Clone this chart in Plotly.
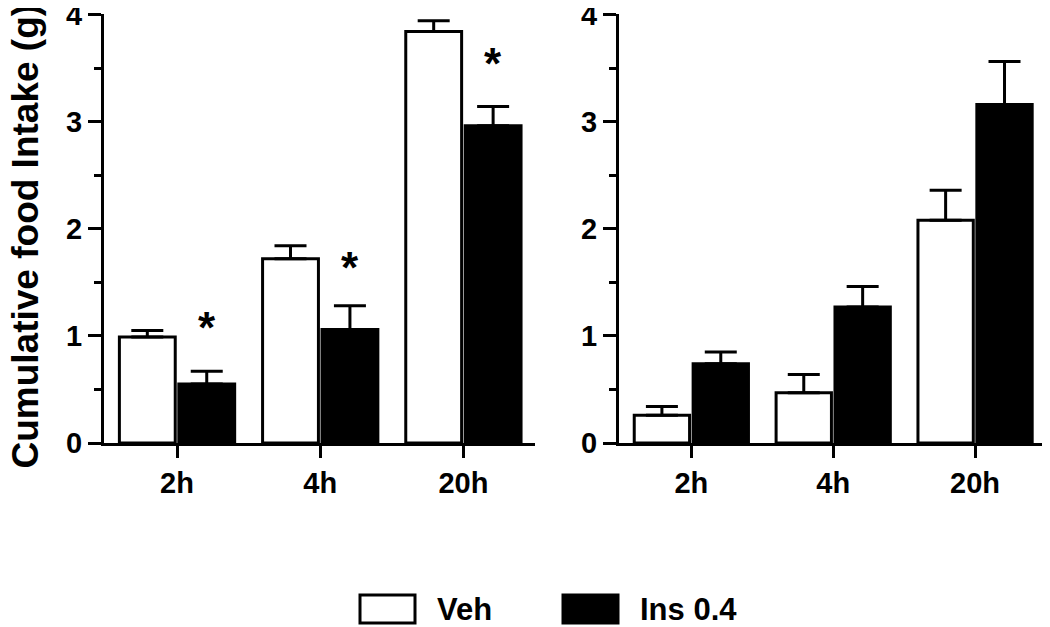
import plotly.graph_objects as go
from plotly.subplots import make_subplots

times = ["2h", "4h", "20h"]

# left panel
veh_left = [0.99, 1.72, 3.84]
veh_left_err = [0.06, 0.12, 0.10]
ins_left = [0.55, 1.06, 2.96]
ins_left_err = [0.12, 0.22, 0.18]
star_left = [1.13, 1.69, 3.60]

# right panel
veh_right = [0.26, 0.47, 2.08]
veh_right_err = [0.08, 0.17, 0.28]
ins_right = [0.74, 1.27, 3.16]
ins_right_err = [0.11, 0.19, 0.40]

y_ticks = [0, 1, 2, 3, 4]

FONT = "Liberation Sans"

# the page body adds an 8px offset, so the figure is sized to the visible area
W, H, OFF = 1042, 619, 8


def px(p):
    return (p - OFF) / W


def py(p):
    return (H - (p - OFF)) / H


fig = make_subplots(rows=1, cols=2)


def add_panel(col, veh, veh_err, ins, ins_err):
    err_style = dict(type="data", symmetric=False, color="black", thickness=3, width=16)
    fig.add_trace(go.Bar(x=times, y=veh, name="Veh", showlegend=False,
                         marker=dict(color="white", line=dict(color="black", width=3)),
                         error_y=dict(array=veh_err, arrayminus=[0] * len(veh), **err_style)),
                  row=1, col=col)
    fig.add_trace(go.Bar(x=times, y=ins, name="Ins 0.4", showlegend=False,
                         marker=dict(color="black", line=dict(color="black", width=3)),
                         error_y=dict(array=ins_err, arrayminus=[0] * len(ins), **err_style)),
                  row=1, col=col)


add_panel(1, veh_left, veh_left_err, ins_left, ins_left_err)
add_panel(2, veh_right, veh_right_err, ins_right, ins_right_err)

# significance stars above the Ins bars
for t, s in zip(times, star_left):
    fig.add_annotation(x=t, y=s, xref="x", yref="y", text="*", showarrow=False,
                       xshift=30, yshift=-6,
                       font=dict(family=FONT, size=44, color="black", weight="bold"))

tick_font = dict(family=FONT, size=29, color="black", weight="bold")
axis_common = dict(showline=True, linewidth=3, linecolor="black", showgrid=False,
                   zeroline=False, ticks="outside", tickwidth=3, tickcolor="black",
                   tickfont=tick_font, ticklabeloverflow="allow", automargin=False)

fig.update_xaxes(**axis_common, ticklen=12, range=[-0.51, 2.5])
fig.update_yaxes(**axis_common, ticklen=13, range=[0, 4.004],
                 tickmode="array", tickvals=y_ticks,
                 minor=dict(ticks="outside", ticklen=7, tickwidth=3, tickcolor="black", dtick=0.5),
                 domain=[py(443), py(14)])
fig.update_layout(xaxis=dict(domain=[px(104), px(535)]),
                  xaxis2=dict(domain=[px(619), px(1046)]))

# y title
fig.add_annotation(x=px(2), y=py(236), xref="paper", yref="paper", textangle=-90,
                   xanchor="left", yanchor="middle",
                   text="Cumulative food Intake (g)", showarrow=False,
                   font=dict(family=FONT, size=37, color="black", weight="bold"))

# legend drawn at bottom
legend_names = ["Veh", "Ins 0.4"]
legend_fill = ["white", "black"]
legend_box_left = [360, 563]
for name, fill, bx in zip(legend_names, legend_fill, legend_box_left):
    fig.add_shape(type="rect", xref="paper", yref="paper", x0=px(bx), x1=px(bx + 55),
                  y0=py(623), y1=py(595), fillcolor=fill, line=dict(color="black", width=3))
    fig.add_annotation(x=px(bx + 75), y=py(609), xref="paper", yref="paper", text=name,
                       showarrow=False, xanchor="left", yanchor="middle",
                       font=dict(family=FONT, size=31, color="black", weight="bold"))

fig.update_layout(
    width=W, height=H,
    margin=dict(l=0, r=0, t=0, b=0),
    plot_bgcolor="white", paper_bgcolor="white",
    barmode="group", bargap=0.17, bargroupgap=0.06,
    showlegend=False,
)

fig.write_html("out.html")
